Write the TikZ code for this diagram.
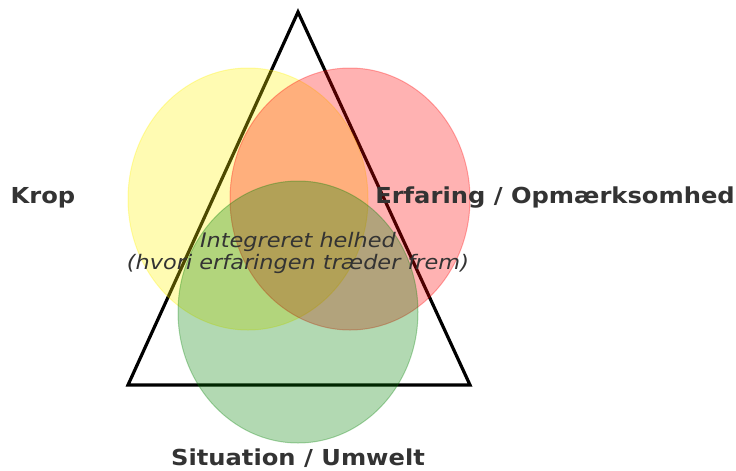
\documentclass[tikz,border=0pt]{standalone}
\usepackage{fontspec}
\setmainfont{DejaVu Sans}
\usepackage{tikz}
\definecolor{mplgreen}{RGB}{0,128,0}
\definecolor{txtgray}{RGB}{51,51,51}
\newcommand{\wide}[1]{\scalebox{1.1}[1]{#1}}
\newcommand{\widei}[1]{\scalebox{1.12}[1]{#1}}

\begin{document}
\begin{tikzpicture}[x=1pt,y=-1pt,
  blob/.style={fill=#1,draw=#1,fill opacity=0.3,draw opacity=0.3,line width=1pt},
  corner/.style={text=txtgray,font=\fontsize{22}{26}\selectfont\bfseries,inner sep=0pt},
  middle/.style={text=txtgray,font=\fontsize{20}{22}\selectfont\itshape,align=center,inner sep=0pt}]
\useasboundingbox (0,0) rectangle (736,471);
% objects at depth 100:
\draw[black,line width=3.2pt,line join=miter] (298,12) -- (470,385) -- (128,385) -- cycle;
% objects at depth 75:
\path[blob=yellow] (248,199) ellipse [x radius=120, y radius=131];
\path[blob=red] (350,199) ellipse [x radius=120, y radius=131];
\path[blob=mplgreen] (298,312) ellipse [x radius=120, y radius=131];
% objects at depth 50:
\node[corner] (krop) at (43,198) {\wide{Krop}};
\node[corner] (erfaring) at (555,198) {\wide{Erfaring / Opmærksomhed}};
\node[corner] (situation) at (298,458) {\wide{Situation / Umwelt}};
\node[middle] (helhed) at (298,253) {\widei{Integreret helhed}\\\widei{(hvori erfaringen træder frem)}};
\end{tikzpicture}
\end{document}
